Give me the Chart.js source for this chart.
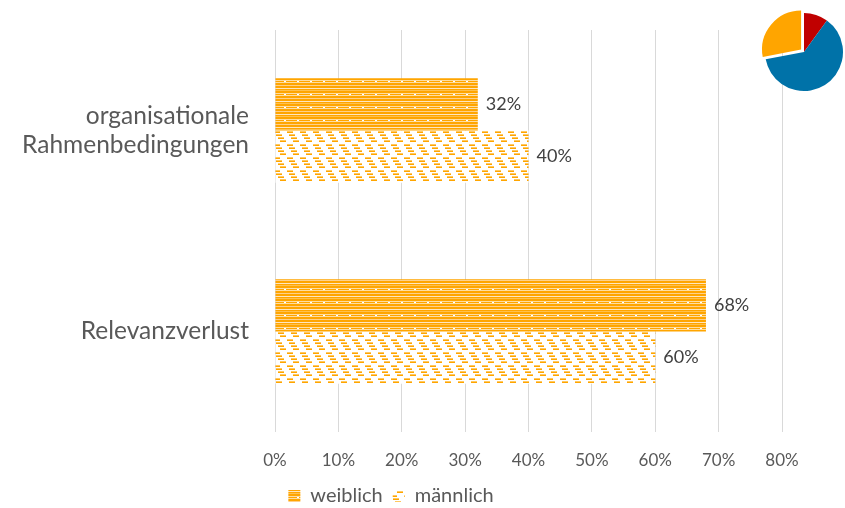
<!DOCTYPE html>
<html>
<head>
<meta charset="utf-8">
<script src="https://cdn.jsdelivr.net/npm/chart.js@4/dist/chart.umd.min.js"></script>
<style>
  html, body { margin: 0; padding: 0; background: #ffffff; }
  #wrap { position: relative; width: 845px; height: 508px; }
  #main { position: absolute; left: 0; top: 0; }
  #icon { position: absolute; left: 752px; top: 0; }
</style>
</head>
<body>
<div id="wrap">
  <canvas id="main" width="845" height="508"></canvas>
  <canvas id="icon" width="104" height="104"></canvas>
</div>
<script>
// Categories and series (percent)
const categories = [['organisationale', 'Rahmenbedingungen'], 'Relevanzverlust'];
const seriesNames = ['weiblich', 'männlich'];
const weiblich = [32, 68];
const maennlich = [40, 60];
const xTicks = [0, 10, 20, 30, 40, 50, 60, 70, 80];

// Small pie icon shares
const iconShares = [10, 62, 28];
const iconColors = ['#C00000', '#0072A8', '#FFA500'];

const FONT = 'Lato, "Open Sans", sans-serif';

// Dense horizontal orange stripes with one dashed row
function stripePattern() {
  const c = document.createElement('canvas');
  c.width = 13; c.height = 13;
  const g = c.getContext('2d');
  g.fillStyle = '#ffffff'; g.fillRect(0, 0, 13, 13);
  const rows = [
    [0, '#FFA500', 13], [1, '#FFA500', 13], [2, '#FFDDA0', 13],
    [3, '#FFA500', 11], [4, '#FFDDA0', 13], [5, '#FFA500', 13],
    [6, '#FFA500', 13], [7, '#FFD08A', 13], [8, '#FFA500', 13],
    [9, '#FFA500', 13], [10, '#FFE6BF', 13], [11, '#FFA500', 13],
    [12, '#FFC04D', 13]
  ];
  rows.forEach(([y, col, w]) => { g.fillStyle = col; g.fillRect(0, y, w, 1); });
  return g.createPattern(c, 'repeat');
}

// Staggered short dashes stepping down to the right
function dashPattern() {
  const c = document.createElement('canvas');
  c.width = 13; c.height = 13;
  const g = c.getContext('2d');
  g.fillStyle = '#ffffff'; g.fillRect(0, 0, 13, 13);
  for (let k = 0; k < 4; k++) {
    const x = 1 + k * 2, y = k * 3 + 1;
    g.fillStyle = '#FFC860'; g.fillRect(x, y, 6, 1);
    g.fillStyle = '#FFA500'; g.fillRect(x, y + 1, 6, 1);
  }
  return g.createPattern(c, 'repeat');
}

// Percent labels at the end of each bar
const valueLabels = {
  id: 'valueLabels',
  afterDatasetsDraw(chart) {
    const ctx = chart.ctx;
    ctx.save();
    ctx.font = '18px ' + FONT;
    ctx.fillStyle = '#404040';
    ctx.textAlign = 'left';
    ctx.textBaseline = 'middle';
    chart.data.datasets.forEach((ds, i) => {
      chart.getDatasetMeta(i).data.forEach((bar, j) => {
        ctx.fillText(ds.data[j] + '%', bar.x + 8, bar.y);
      });
    });
    ctx.restore();
  }
};

// Move the legend row closer to the bottom edge
const legendNudge = {
  id: 'legendNudge',
  afterLayout(chart) {
    if (chart.legend) {
      chart.legend.top += 8;
      chart.legend.bottom += 8;
    }
  }
};

new Chart(document.getElementById('main'), {
  type: 'bar',
  data: {
    labels: categories,
    datasets: [
      { label: seriesNames[0], data: weiblich, backgroundColor: stripePattern(), borderWidth: 0 },
      { label: seriesNames[1], data: maennlich, backgroundColor: dashPattern(), borderWidth: 0 }
    ]
  },
  options: {
    indexAxis: 'y',
    responsive: false,
    animation: false,
    events: [],
    datasets: { bar: { categoryPercentage: 0.52, barPercentage: 1 } },
    layout: { padding: { top: 30, right: 63, bottom: 0, left: 0 } },
    scales: {
      x: {
        min: 0, max: 80,
        afterBuildTicks(axis) { axis.ticks = xTicks.map(v => ({ value: v })); },
        afterFit(axis) { axis.height = 36; },
        ticks: {
          callback: v => v + '%',
          color: '#595959',
          font: { family: FONT, size: 17, lineHeight: 1 },
          padding: 20
        },
        grid: { color: '#d9d9d9', drawTicks: false, lineWidth: 1 },
        border: { display: false }
      },
      y: {
        afterFit(axis) {
          axis.width = 275;
          axis.paddingTop = 0;
          axis.paddingBottom = 0;
        },
        ticks: {
          color: '#595959',
          font: { family: FONT, size: 24.5 },
          padding: 26
        },
        grid: { display: false, drawTicks: false },
        border: { display: false }
      }
    },
    plugins: {
      legend: {
        position: 'bottom',
        labels: {
          boxWidth: 12, boxHeight: 12,
          color: '#595959',
          font: { family: FONT, size: 20 },
          padding: 10
        }
      },
      tooltip: { enabled: false }
    }
  },
  plugins: [valueLabels, legendNudge]
});

new Chart(document.getElementById('icon'), {
  type: 'pie',
  data: {
    labels: ['a', 'b', 'c'],
    datasets: [{
      data: iconShares,
      backgroundColor: iconColors,
      borderWidth: 0,
      offset: [0, 0, 15]
    }]
  },
  options: {
    responsive: false,
    animation: false,
    events: [],
    radius: 39,
    plugins: { legend: { display: false }, tooltip: { enabled: false } }
  }
});
</script>
</body>
</html>
